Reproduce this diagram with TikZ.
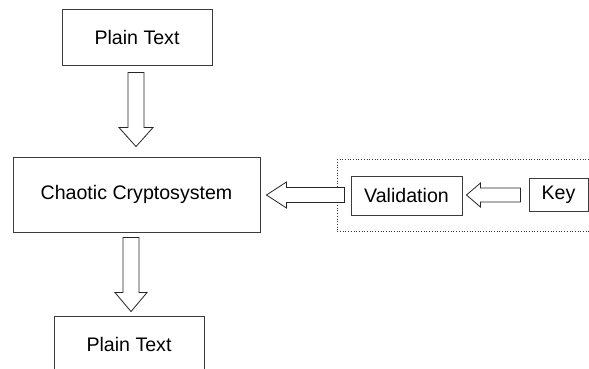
\documentclass[tikz,border=0pt]{standalone}
\usepackage{fontspec}
\setmainfont{Liberation Sans}
\usepackage{tikz}
\usetikzlibrary{calc}
\definecolor{cpedge}{RGB}{60,60,60}
\tikzset{
  cpbox/.style={
    draw=cpedge, line width=0.9pt, fill=white, inner sep=0pt,
    align=center, font=\fontsize{19.6}{22}\selectfont
  },
  grp/.style={
    draw=black!80, dotted, line width=0.7pt, inner sep=0pt
  },
  hollow/.style={draw=black!85, fill=white, line width=0.8pt, line join=miter}
}

\begin{document}
\begin{tikzpicture}[x=1pt,y=-1pt]
  \clip (0,0) rectangle (589,368);
  \fill[white] (0,0) rectangle (589,368);
  % key group, runs off the right edge
  \node[grp, anchor=north west, minimum width=280pt, minimum height=72pt] (keygrp) at (337,159) {};
  \node[cpbox, minimum width=150pt, minimum height=56pt] (ptop) at (137,37) {Plain Text};
  \node[cpbox, minimum width=247pt, minimum height=75pt] (chaos) at (136.5,194.5) {Chaotic Cryptosystem};
  \node[cpbox, minimum width=150pt, minimum height=56pt] (pbot) at (129,344) {Plain Text};
  \node[cpbox, minimum width=111pt, minimum height=39pt] (valid) at (406.5,195.5) {Validation};
  \node[cpbox, minimum width=59pt, minimum height=33pt] (key) at (558.5,194.5) {Key};
  % arrow ends
  \coordinate (a1s) at ($(ptop.south)+(-1,7)$);
  \coordinate (a1t) at ($(chaos.north)+(-0.5,-10)$);
  \coordinate (a2s) at ($(chaos.south)+(-5.5,5)$);
  \coordinate (a2t) at ($(pbot.north)+(2,-4)$);
  \coordinate (a3s) at ($(valid.west)+(-6,-0.5)$);
  \coordinate (a3t) at ($(chaos.east)+(6,0.5)$);
  \coordinate (a4s) at ($(key.west)+(-8,0.5)$);
  \coordinate (a4t) at ($(valid.east)+(4,-0.5)$);
  % block arrows: name/shaft half width/head half width/head length
  \foreach \a/\w/\h/\l in {a1/8/17/19, a2/8/16/19, a3/7.5/13/20, a4/7/12/14}{
    \coordinate (\a b) at ($(\a t)!\l pt!(\a s)$);
    \draw[hollow] ($(\a s)!\w pt!90:(\a t)$) -- ($(\a b)!\w pt!-90:(\a s)$)
      -- ($(\a b)!\h pt!-90:(\a s)$) -- (\a t) -- ($(\a b)!\h pt!90:(\a s)$)
      -- ($(\a b)!\w pt!90:(\a s)$) -- ($(\a s)!\w pt!-90:(\a t)$) -- cycle;
  }
\end{tikzpicture}
\end{document}
